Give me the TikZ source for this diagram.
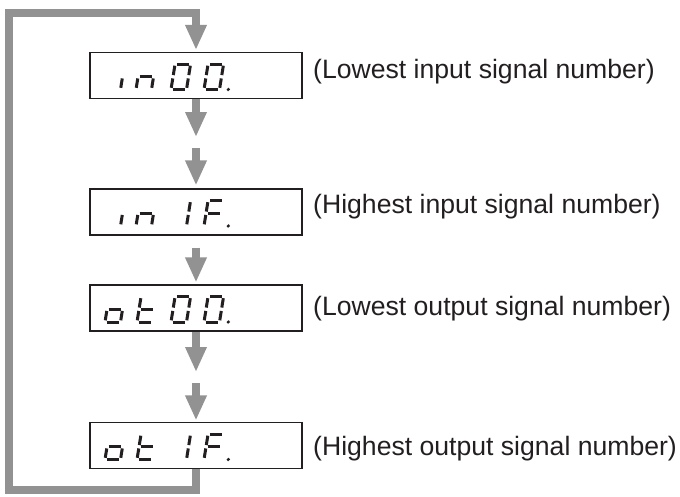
\documentclass[tikz,border=0pt]{standalone}
\usepackage{fontspec}
\setmainfont{Liberation Sans}
\usepackage{tikz}
\usetikzlibrary{positioning, calc, arrows.meta}

\definecolor{flowgray}{RGB}{146,146,146}
\definecolor{inkdark}{RGB}{35,31,32}

\tikzset{
  panel/.style={draw=inkdark, line width=1.1pt, minimum width=212pt, minimum height=46pt, inner sep=0pt},
  flow/.style={draw=flowgray, line width=8pt, line join=miter, -{Triangle[length=25pt,width=20pt]}},
  seg/.style={inkdark, line width=3pt, shorten <=1.7pt, shorten >=1.7pt},
  note/.style={inkdark, font=\fontsize{26.6}{32}\selectfont, inner sep=0pt, anchor=base west}
}

% seven segment display, one segment per macro
\newcommand{\lcda}{\draw[seg] (0,25.5) -- (15.5,25.5);}
\newcommand{\lcdb}{\draw[seg] (15.5,25.5) -- (15.5,12.75);}
\newcommand{\lcdc}{\draw[seg] (15.5,12.75) -- (15.5,0);}
\newcommand{\lcdd}{\draw[seg] (0,0) -- (15.5,0);}
\newcommand{\lcde}{\draw[seg] (0,0) -- (0,12.75);}
\newcommand{\lcdf}{\draw[seg] (0,12.75) -- (0,25.5);}
\newcommand{\lcdg}{\draw[seg] (0,12.75) -- (15.5,12.75);}
\newcommand{\lcdp}{\fill[inkdark] (24.3,0) circle (1.8pt);}
\newcommand{\lcdchar}[3]{%
  \begin{scope}[shift={(#1,#2)}, x=1pt, y=1pt, xslant=0.16]
    \foreach \s in {#3} {\csname lcd\s\endcsname}
  \end{scope}}

\begin{document}
\begin{tikzpicture}[x=1pt,y=-1pt]
    \useasboundingbox (0,0) rectangle (680,496);

    % Display panels
    \node[panel] (in00) at (196,75.5) {};
    \node[panel] (in1F) at (196,212) {};
    \node[panel] (ot00) at (196,308) {};
    \node[panel] (ot1F) at (196,445.5) {};

    % Panel contents
    \lcdchar{105}{89.5}{c}   \lcdchar{136}{89.5}{c,e,g}
    \lcdchar{171}{89.5}{a,b,c,d,e,f} \lcdchar{204}{89.5}{a,b,c,d,e,f,p}

    \lcdchar{105}{226}{c}    \lcdchar{136}{226}{c,e,g}
    \lcdchar{171}{226}{b,c}  \lcdchar{204}{226}{a,e,f,g,p}

    \lcdchar{105}{322}{c,d,e,g} \lcdchar{137}{322}{d,e,f,g}
    \lcdchar{171}{322}{a,b,c,d,e,f} \lcdchar{204}{322}{a,b,c,d,e,f,p}

    \lcdchar{105}{459.5}{c,d,e,g} \lcdchar{137}{459.5}{d,e,f,g}
    \lcdchar{171}{459.5}{b,c}  \lcdchar{204}{459.5}{a,e,f,g,p}

    % Labels
    \node[note] (lowIn) at (313,78) {(Lowest input signal number)};
    \node[note] (highIn) at (313,213.5) {(Highest input signal number)};
    \node[note] (lowOut) at (313,315) {(Lowest output signal number)};
    \node[note] (highOut) at (313,455) {(Highest output signal number)};

    % Gaps between arrows
    \coordinate (gapInA) at (196,137);
    \coordinate (gapInB) at (196,148);
    \coordinate (gapOutA) at (196,372);
    \coordinate (gapOutB) at (196,383);
    \coordinate (loopB) at (8.5,490);
    \coordinate (loopT) at (8.5,12.5);

    % Arrows
    \draw[flow] (in00.south) -- (gapInA);
    \draw[flow, shorten >=3pt] (gapInB) -- (in1F.north);
    \draw[flow, shorten <=12pt, shorten >=2pt] (in1F.south) -- (ot00.north);
    \draw[flow] (ot00.south) -- (gapOutA);
    \draw[flow, shorten >=1.5pt] (gapOutB) -- (ot1F.north);

    % Return loop
    \draw[flow, shorten >=2pt] (ot1F.south) |- (loopB) -- (loopT) -| (in00.north);
\end{tikzpicture}
\end{document}
